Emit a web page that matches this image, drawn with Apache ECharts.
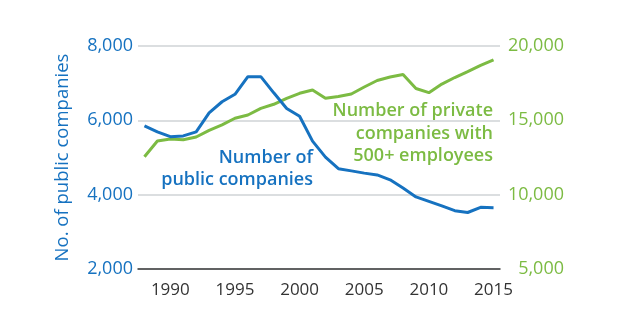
<!DOCTYPE html>
<html>
<head>
<meta charset="utf-8">
<script src="https://cdn.jsdelivr.net/npm/echarts@6/dist/echarts.min.js"></script>
<style>html,body{margin:0;padding:0;background:#fff;}#c{width:620px;height:330px;}</style>
</head>
<body>
<div id="c"></div>
<script>
var years = [1988,1989,1990,1991,1992,1993,1994,1995,1996,1997,1998,1999,2000,2001,2002,2003,2004,2005,2006,2007,2008,2009,2010,2011,2012,2013,2014,2015];
var publicCompanies = [5850,5690,5560,5580,5690,6200,6500,6700,7175,7175,6740,6320,6110,5440,5010,4700,4640,4580,4530,4400,4180,3940,3820,3700,3570,3520,3660,3650];
var privateCompanies = [12550,13610,13740,13700,13880,14330,14690,15140,15360,15800,16080,16480,16820,17040,16480,16600,16770,17240,17680,17910,18080,17140,16860,17440,17880,18280,18690,19060];
var leftTicks = [2000, 8000, 2000];
var rightTicks = [5000, 20000, 5000];

var BLUE = '#1672c0';
var GREEN = '#7cbb43';
var FONT = 'Open Sans';

var chart = echarts.init(document.getElementById('c'), null, {renderer: 'canvas'});
chart.setOption({
  animation: false,
  grid: {left: 138, right: 120, top: 46, bottom: 61},
  xAxis: {
    type: 'category',
    data: years,
    boundaryGap: true,
    axisLine: {lineStyle: {color: '#3a3a3a', width: 1.5}},
    axisTick: {show: false},
    axisLabel: {
      interval: function (i, v) { return Number(v) % 5 === 0; },
      color: '#333', fontSize: 17, fontFamily: FONT, margin: 13
    }
  },
  yAxis: [{
    type: 'value',
    min: leftTicks[0], max: leftTicks[1], interval: leftTicks[2],
    name: 'No. of public companies',
    nameLocation: 'middle', nameGap: 66,
    nameTextStyle: {color: BLUE, fontSize: 18.5, fontFamily: FONT},
    axisLine: {show: false}, axisTick: {show: false},
    axisLabel: {color: BLUE, fontSize: 18, fontFamily: FONT, margin: 5,
      formatter: function (v) { return v.toLocaleString('en-US'); }},
    splitLine: {lineStyle: {color: '#cfd3d6', width: 1.5}}
  }, {
    type: 'value',
    min: rightTicks[0], max: rightTicks[1], interval: rightTicks[2],
    position: 'right',
    axisLine: {show: false}, axisTick: {show: false},
    axisLabel: {color: GREEN, fontSize: 18, fontFamily: FONT, margin: 64, align: 'right',
      formatter: function (v) { return v.toLocaleString('en-US'); }},
    splitLine: {show: false}
  }],
  series: [{
    type: 'line', yAxisIndex: 0, data: publicCompanies,
    symbol: 'none', lineStyle: {color: BLUE, width: 3}, z: 3
  }, {
    type: 'line', yAxisIndex: 1, data: privateCompanies,
    symbol: 'none', lineStyle: {color: GREEN, width: 3}, z: 2
  }],
  graphic: [{
    type: 'text', x: 313, y: 169,
    style: {text: 'Number of\npublic companies', fill: BLUE, font: '600 18px "Open Sans"',
      textAlign: 'right', textVerticalAlign: 'middle', lineHeight: 22}
  }, {
    type: 'text', x: 493, y: 133.5,
    style: {text: 'Number of private\ncompanies with\n500+ employees', fill: GREEN, font: '600 18px "Open Sans"',
      textAlign: 'right', textVerticalAlign: 'middle', lineHeight: 22.5}
  }]
});
</script>
</body>
</html>
